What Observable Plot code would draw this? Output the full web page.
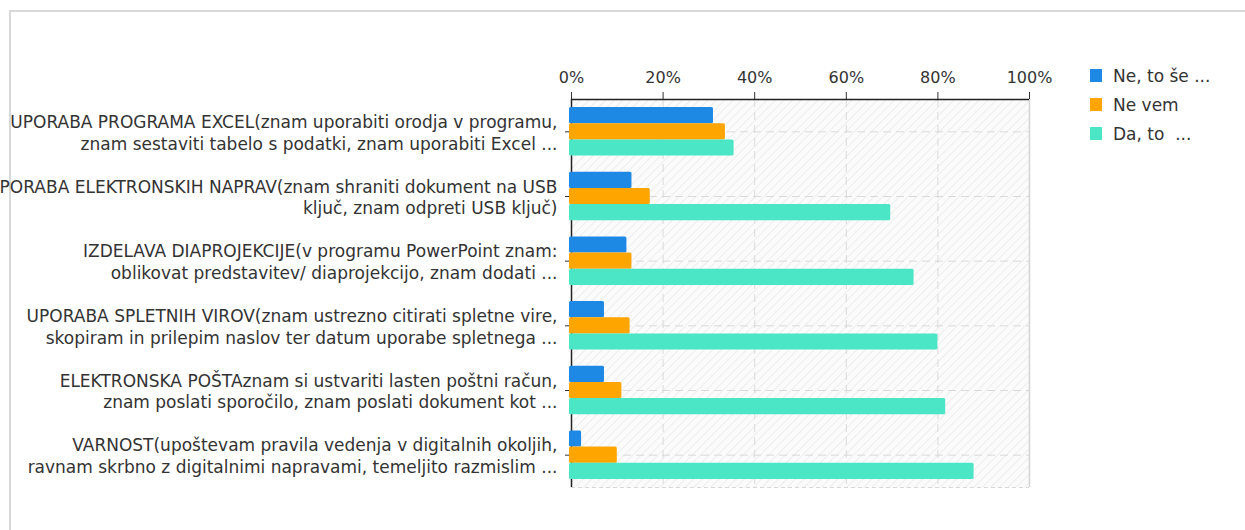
<!DOCTYPE html>
<html>
<head>
<meta charset="utf-8">
<script src="https://cdn.jsdelivr.net/npm/d3@7"></script>
<script src="https://cdn.jsdelivr.net/npm/@observablehq/plot@0.6"></script>
<style>
  body { margin: 0; background: #fff; }
  #wrap { position: relative; width: 1245px; height: 530px; overflow: hidden; background: #fff; }
  #border { position: absolute; left: 9px; top: 10px; width: 1300px; height: 600px; border-left: 2px solid #d9d9d9; border-top: 2px solid #d9d9d9; }
  #chart { position: absolute; left: 0; top: 0; }
  #legend { position: absolute; left: 1090px; top: 61px; font: 17px "DejaVu Sans", sans-serif; color: #333; }
  .row { height: 29px; display: flex; align-items: center; white-space: pre; }
  .sw { width: 12px; height: 13px; margin-right: 11px; }
</style>
</head>
<body>
<div id="wrap">
  <div id="border"></div>
  <div id="chart"></div>
  <div id="legend"></div>
</div>
<script>
// ---- data ----
const categories = [
  "UPORABA PROGRAMA EXCEL(znam uporabiti orodja v programu,\nznam sestaviti tabelo s podatki, znam uporabiti Excel ...",
  "UPORABA ELEKTRONSKIH NAPRAV(znam shraniti dokument na USB\nključ, znam odpreti USB ključ)",
  "IZDELAVA DIAPROJEKCIJE(v programu PowerPoint znam:\noblikovat predstavitev/ diaprojekcijo, znam dodati ...",
  "UPORABA SPLETNIH VIROV(znam ustrezno citirati spletne vire,\nskopiram in prilepim naslov ter datum uporabe spletnega ...",
  "ELEKTRONSKA POŠTAznam si ustvariti lasten poštni račun,\nznam poslati sporočilo, znam poslati dokument kot ...",
  "VARNOST(upoštevam pravila vedenja v digitalnih okoljih,\nravnam skrbno z digitalnimi napravami, temeljito razmislim ..."
];
const series = ["Ne, to še ...", "Ne vem", "Da, to  ..."];
const neToSe = [31.0, 13.2, 12.1, 7.2, 7.2, 2.2];
const neVem  = [33.6, 17.2, 13.2, 12.8, 11.0, 10.0];
const daTo   = [35.5, 69.7, 74.8, 80.0, 81.7, 87.9];
const xTicks = [0, 20, 40, 60, 80, 100];
const colors = ["#1E88E5", "#FFA500", "#4BE6C5"];

// ---- derived table ----
const valuesBySeries = [neToSe, neVem, daTo];
const groupPad = 0.125, barH = 0.25;
const rows = [];
categories.forEach((c, i) => {
  series.forEach((s, j) => {
    const y1 = i + groupPad + barH * j;
    rows.push({cat: c, series: s, v: valuesBySeries[j][i], y1, y2: y1 + barH});
  });
});
const centers = categories.map((c, i) => ({label: c, y: i + 0.5}));

const svg = Plot.plot({
  width: 1245,
  height: 530,
  marginLeft: 571,
  marginRight: 216,
  marginTop: 99,
  marginBottom: 43,
  style: {background: "transparent", fontSize: "16px", fontFamily: "DejaVu Sans, sans-serif", color: "#333", overflow: "visible"},
  x: {domain: [0, 100], axis: "top", ticks: xTicks, tickFormat: d => d + "%", tickSize: 8, tickPadding: 9, label: null},
  y: {domain: [0, categories.length], reverse: true, axis: "left", ticks: centers.map(d => d.y), tickFormat: () => "", tickSize: 6, tickPadding: 0, label: null},
  color: {domain: series, range: colors},
  marks: [
    Plot.frame({fill: "url(#hatch)", stroke: null}),
    Plot.ruleX(xTicks.slice(1, -1), {stroke: "#dadada", strokeDasharray: "8,5"}),
    Plot.ruleY(centers, {y: "y", stroke: "#dadada", strokeDasharray: "8,5"}),
    Plot.ruleY([categories.length], {stroke: "#d8d8d8", strokeDasharray: "4,3"}),
    Plot.ruleX([100], {stroke: "#d4d4d4", strokeWidth: 1.5}),
    Plot.ruleX([0], {stroke: "#222", strokeWidth: 1.5}),
    Plot.ruleY([0], {stroke: "#222", strokeWidth: 1.5}),
    Plot.rect(rows, {x1: 0, x2: "v", y1: "y1", y2: "y2", fill: "series", insetLeft: -2, rx: 1.5}),
    Plot.text(centers, {x: 0, y: "y", text: "label", dx: -14, textAnchor: "end", lineHeight: 1.28, fill: "#333", fontSize: 17})
  ]
});

const defs = d3.select(svg).insert("defs", ":first-child");
const pat = defs.append("pattern").attr("id", "hatch").attr("width", 6).attr("height", 6)
  .attr("patternUnits", "userSpaceOnUse").attr("patternTransform", "rotate(45)");
pat.append("rect").attr("width", 6).attr("height", 6).attr("fill", "#fbfbfb");
pat.append("line").attr("x1", 0).attr("y1", 0).attr("x2", 0).attr("y2", 6).attr("stroke", "#e9e9e9").attr("stroke-width", 1.5);

document.getElementById("chart").appendChild(svg);

const legend = d3.select("#legend");
series.forEach((s, j) => {
  const r = legend.append("div").attr("class", "row");
  r.append("div").attr("class", "sw").style("background", colors[j]);
  r.append("span").text(s);
});
</script>
</body>
</html>
